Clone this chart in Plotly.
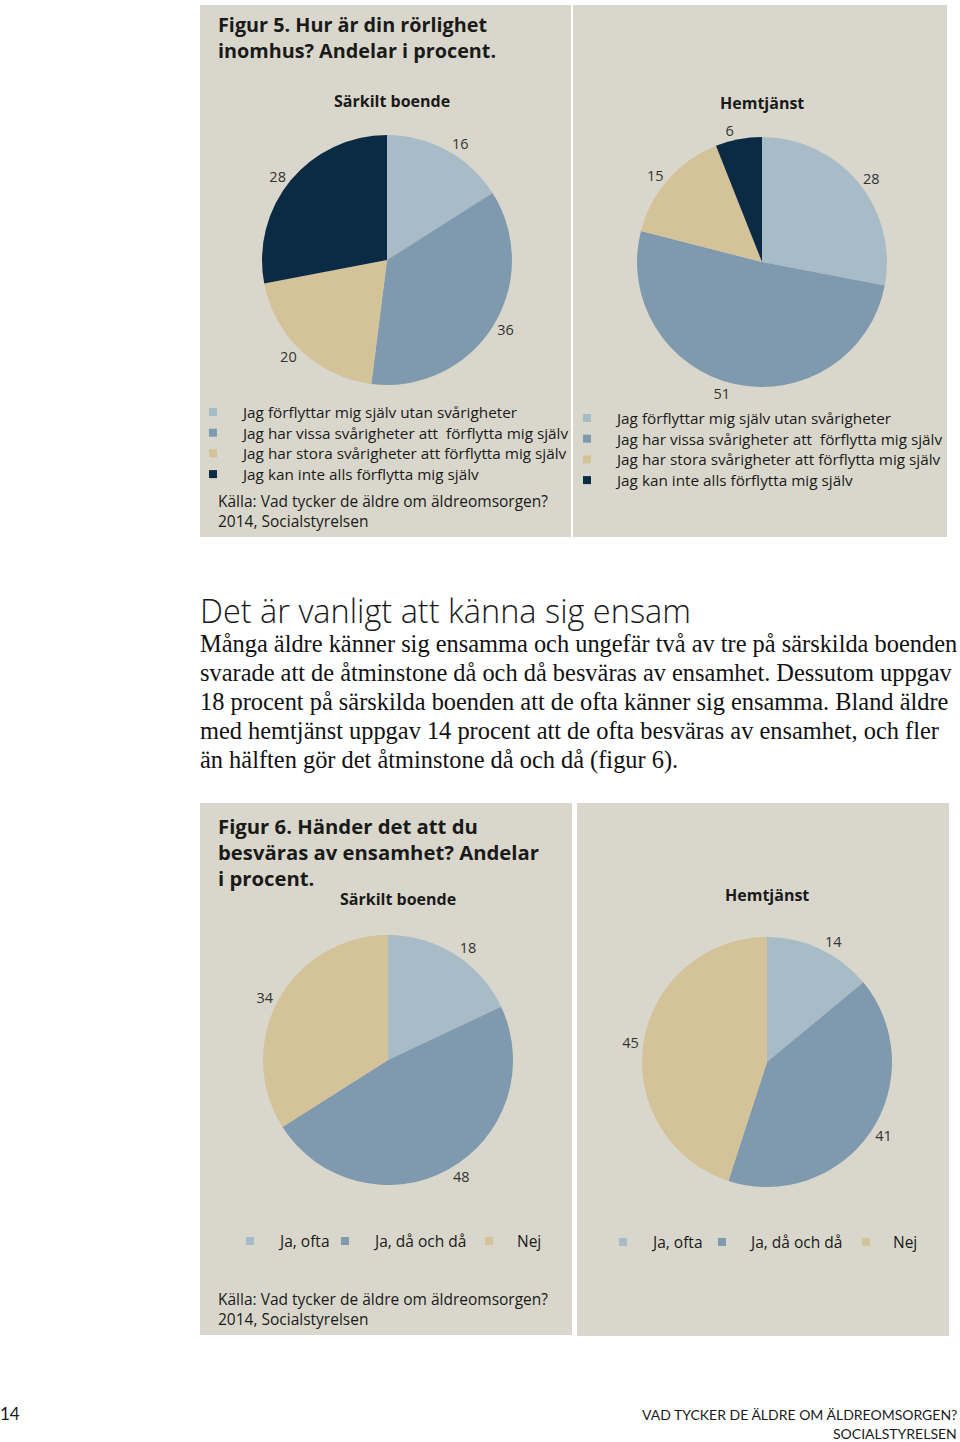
import plotly.graph_objects as go

W, H = 960, 1442

# ---------------- data ----------------
mob_labels = [
    "Jag förflyttar mig själv utan svårigheter",
    "Jag har vissa svårigheter att  förflytta mig själv",
    "Jag har stora svårigheter att förflytta mig själv",
    "Jag kan inte alls förflytta mig själv",
]
mob_sarskilt = [16, 36, 20, 28]
mob_hemtjanst = [28, 51, 15, 6]

ens_labels = ["Ja, ofta", "Ja, då och då", "Nej"]
ens_sarskilt = [18, 48, 34]
ens_hemtjanst = [14, 41, 45]

# ---------------- styles ----------------
C_LIGHT = "#A8BCC8"
C_MID = "#7F9AAE"
C_TAN = "#D4C299"
C_NAVY = "#0B2B45"
MOB_COLORS = [C_LIGHT, C_MID, C_TAN, C_NAVY]
ENS_COLORS = [C_LIGHT, C_MID, C_TAN]
BG = "#D9D7CB"
SANS = "'Open Sans', 'DejaVu Sans', sans-serif"
FOOT = "Lato, sans-serif"
SERIF = "'Liberation Serif', 'Times New Roman', serif"
TXT = "#1a1a1a"
SOURCE = "Källa: Vad tycker de äldre om äldreomsorgen?<br>2014, Socialstyrelsen"


def px(x):
    return x / W


def py(y):
    return 1 - y / H


def dom(cx, cy, r):
    return dict(x=[px(cx - r), px(cx + r)], y=[py(cy + r), py(cy - r)])


fig = go.Figure()


def add_pie(labels, values, colors, cx, cy):
    fig.add_trace(go.Pie(
        labels=labels, values=values, sort=False, direction="clockwise",
        rotation=0, marker=dict(colors=colors, line=dict(width=0)),
        textinfo="value", textposition="outside",
        textfont=dict(family=SANS, size=14.5, color="#333333"),
        domain=dom(cx, cy, 125), showlegend=False, hoverinfo="label+value",
    ))


add_pie(mob_labels, mob_sarskilt, MOB_COLORS, 387, 260)
add_pie(mob_labels, mob_hemtjanst, MOB_COLORS, 762, 262)
add_pie(ens_labels, ens_sarskilt, ENS_COLORS, 388, 1060)
add_pie(ens_labels, ens_hemtjanst, ENS_COLORS, 767, 1062)

# ---------------- panels ----------------
shapes = []
for x0, y0, x1, y1 in [(200, 5, 571, 537), (573, 5, 947, 537),
                       (200, 803, 572, 1335), (577, 803, 949, 1336)]:
    shapes.append(dict(type="rect", xref="paper", yref="paper",
                       x0=px(x0), x1=px(x1), y0=py(y1), y1=py(y0),
                       fillcolor=BG, line=dict(width=0), layer="below"))

# ---------------- text ----------------
ann = []


def text(x, y, s, size=15, bold=False, family=SANS, xanchor="left", color=TXT,
         weight=None):
    if xanchor == "left":
        x -= 2
    ann.append(dict(xref="paper", yref="paper", x=px(x), y=py(y), text=s,
                    showarrow=False, xanchor=xanchor, yanchor="middle",
                    align=xanchor if xanchor != "center" else "center",
                    font=dict(family=family, size=size, color=color,
                              weight=weight if weight else ("bold" if bold else "normal"))))


def square(cx, cy, color, s=8):
    shapes.append(dict(type="rect", xref="paper", yref="paper",
                       x0=px(cx - s / 2), x1=px(cx + s / 2),
                       y0=py(cy + s / 2), y1=py(cy - s / 2),
                       fillcolor=color, line=dict(width=0)))


text(218, 25, "Figur 5. Hur är din rörlighet", 19.8, True)
text(218, 51, "inomhus? Andelar i procent.", 19.8, True)
text(392, 101, "Särkilt boende", 16, True, xanchor="center")
text(762, 103, "Hemtjänst", 16, True, xanchor="center")
text(218, 511, SOURCE, 15.5)

# vertical legends (figure 5)
for lx, tx, y0 in [(213, 241, 412), (587, 615, 418)]:
    for i, (lab, col) in enumerate(zip(mob_labels, MOB_COLORS)):
        yy = y0 + i * 20.7
        square(lx, yy, col)
        text(tx, yy, lab, 15.3)

text(200, 610, "Det är vanligt att känna sig ensam", 32.5, weight=300)
para = [
    "Många äldre känner sig ensamma och ungefär två av tre på särskilda boenden",
    "svarade att de åtminstone då och då besväras av ensamhet. Dessutom uppgav",
    "18 procent på särskilda boenden att de ofta känner sig ensamma. Bland äldre",
    "med hemtjänst uppgav 14 procent att de ofta besväras av ensamhet, och fler",
    "än hälften gör det åtminstone då och då (figur 6).",
]
for i, line in enumerate(para):
    text(200, 643 + i * 29.3, line, 24.4, family=SERIF, color="#111111")

text(218, 826, "Figur 6. Händer det att du", 20.3, True)
text(218, 852, "besväras av ensamhet? Andelar", 20.3, True)
text(218, 878, "i procent.", 20.3, True)
text(398, 899, "Särkilt boende", 16, True, xanchor="center")
text(767, 895, "Hemtjänst", 16, True, xanchor="center")
text(218, 1309, SOURCE, 15.5)

# horizontal legends (figure 6)
for y0, mks, txs in [(1241, [250, 345, 489], [278, 373, 517]),
                     (1242, [623, 722, 866], [651, 749, 893])]:
    for lab, col, mx, tx in zip(ens_labels, ENS_COLORS, mks, txs):
        square(mx, y0, col)
        text(tx, y0, lab, 15.5)

text(0, 1413, "14", 17, family=FOOT)
text(959, 1414, "VAD TYCKER DE ÄLDRE OM ÄLDREOMSORGEN?", 14, family=FOOT, xanchor="right")
text(959, 1433, "SOCIALSTYRELSEN", 14, family=FOOT, xanchor="right")

fig.update_layout(
    width=W, height=H, margin=dict(l=0, r=0, t=0, b=0),
    paper_bgcolor="white", plot_bgcolor="white",
    shapes=shapes, annotations=ann, showlegend=False,
)

fig.write_html("out.html")
